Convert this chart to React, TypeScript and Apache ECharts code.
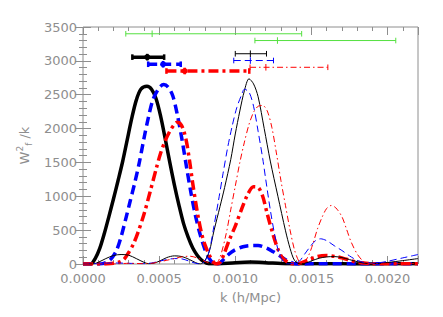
import React, { useEffect, useRef } from "react";
import * as echarts from "echarts";

// ---- curve data (k in h/Mpc, W_f^2/k) ----
const blackThickK = [0, 0.00005, 0.00008, 0.00011, 0.00014, 0.00017, 0.0002, 0.00023, 0.00026, 0.00029, 0.00032, 0.00035, 0.00038, 0.00042, 0.00045, 0.00048, 0.00051, 0.00054, 0.00057, 0.0006, 0.00063, 0.00066, 0.00069, 0.00072, 0.00075, 0.00078, 0.00081, 0.00085, 0.0009, 0.001, 0.0011, 0.0012, 0.0013, 0.0014, 0.0016, 0.0018, 0.002, 0.0022];
const blackThickW = [0, 0, 80, 230, 450, 700, 960, 1230, 1510, 1830, 2150, 2420, 2580, 2625, 2580, 2440, 2180, 1850, 1500, 1170, 870, 600, 400, 240, 130, 55, 15, 3, 5, 20, 28, 20, 8, 2, 3, 1, 2, 2];

const blackThinK = [0, 0.00006, 0.0001, 0.00015, 0.0002, 0.00025, 0.0003, 0.00035, 0.0004, 0.00043, 0.00046, 0.0005, 0.00055, 0.0006, 0.00065, 0.0007, 0.00074, 0.00077, 0.0008, 0.00083, 0.00086, 0.0009, 0.00093, 0.00097, 0.001, 0.00103, 0.00106, 0.00109, 0.00112, 0.00115, 0.00119, 0.00123, 0.00128, 0.00133, 0.00136, 0.00139, 0.00143, 0.00147, 0.0015, 0.00155, 0.0016, 0.00165, 0.0017, 0.00175, 0.0018, 0.00185, 0.0019, 0.00195, 0.002, 0.0021, 0.0022];
const blackThinW = [0, 0, 25, 80, 125, 140, 130, 80, 25, 5, 10, 40, 95, 120, 110, 65, 20, 0, 50, 190, 490, 850, 1130, 1540, 1920, 2260, 2560, 2735, 2660, 2470, 2000, 1520, 1000, 490, 230, 50, 0, 20, 45, 85, 105, 110, 95, 65, 35, 12, 5, 10, 22, 50, 80];

const blueThickK = [0, 0.0001, 0.00013, 0.00016, 0.00019, 0.00022, 0.00025, 0.00028, 0.00031, 0.00034, 0.00037, 0.0004, 0.00043, 0.00046, 0.0005, 0.00053, 0.00056, 0.00059, 0.00062, 0.00065, 0.00068, 0.00071, 0.00074, 0.00077, 0.0008, 0.00083, 0.00086, 0.00089, 0.00092, 0.00096, 0.001, 0.00105, 0.0011, 0.00115, 0.0012, 0.00125, 0.0013, 0.00134, 0.00138, 0.0014, 0.0016, 0.0018, 0.002, 0.0022];
const blueThickW = [0, 0, 5, 30, 90, 200, 400, 660, 930, 1200, 1500, 1850, 2170, 2430, 2600, 2650, 2610, 2480, 2200, 1840, 1430, 1040, 700, 430, 220, 80, 10, 5, 60, 150, 210, 255, 272, 273, 240, 180, 110, 50, 10, 0, 5, 2, 2, 3];

const blueThinK = [0, 0.0001, 0.0002, 0.0003, 0.0004, 0.00045, 0.0005, 0.00055, 0.0006, 0.00065, 0.0007, 0.00074, 0.00077, 0.0008, 0.00083, 0.00086, 0.00089, 0.00092, 0.00095, 0.00098, 0.00101, 0.00104, 0.00106, 0.00109, 0.00112, 0.00115, 0.00118, 0.0012, 0.00123, 0.00126, 0.00129, 0.00132, 0.00134, 0.00138, 0.00142, 0.00146, 0.0015, 0.00153, 0.00156, 0.0016, 0.00165, 0.0017, 0.00175, 0.0018, 0.00185, 0.0019, 0.00195, 0.002, 0.0021, 0.0022];
const blueThinW = [0, 5, 15, 10, 5, 15, 40, 65, 80, 75, 40, 10, 0, 40, 200, 560, 940, 1340, 1720, 2040, 2310, 2490, 2580, 2540, 2330, 1960, 1560, 1250, 800, 420, 140, 25, 0, 5, 40, 160, 280, 350, 372, 345, 270, 200, 120, 55, 20, 10, 20, 40, 90, 140];

const redThickK = [0, 0.00015, 0.0002, 0.00024, 0.00027, 0.0003, 0.00033, 0.00036, 0.0004, 0.00044, 0.00048, 0.00051, 0.00054, 0.00057, 0.0006, 0.00062, 0.00064, 0.00066, 0.00068, 0.0007, 0.00072, 0.00074, 0.00076, 0.00078, 0.0008, 0.00083, 0.00086, 0.00088, 0.0009, 0.00093, 0.00096, 0.001, 0.00104, 0.00108, 0.00112, 0.00115, 0.00118, 0.00121, 0.00125, 0.00128, 0.00131, 0.00135, 0.00138, 0.00142, 0.00148, 0.00154, 0.0016, 0.00166, 0.0017, 0.00176, 0.0018, 0.0019, 0.002, 0.0022];
const redThickW = [0, 0, 10, 30, 70, 170, 290, 460, 730, 1060, 1400, 1640, 1820, 1960, 2060, 2095, 2070, 1980, 1800, 1520, 1200, 910, 650, 440, 290, 130, 20, 0, 20, 170, 350, 560, 800, 1020, 1140, 1130, 1000, 740, 420, 220, 90, 20, 0, 10, 60, 110, 125, 110, 90, 50, 25, 5, 2, 3];

const redThinK = [0, 0.0002, 0.0003, 0.0004, 0.00045, 0.0005, 0.00055, 0.0006, 0.00065, 0.0007, 0.00075, 0.0008, 0.00084, 0.00087, 0.0009, 0.00094, 0.00097, 0.001, 0.00103, 0.00106, 0.00109, 0.00112, 0.00115, 0.00118, 0.00121, 0.00124, 0.00127, 0.0013, 0.00133, 0.00136, 0.00139, 0.00142, 0.00144, 0.00148, 0.00151, 0.00154, 0.00157, 0.0016, 0.00163, 0.00166, 0.0017, 0.00173, 0.00176, 0.0018, 0.00184, 0.00187, 0.0019, 0.002, 0.0022];
const redThinW = [0, 0, 10, 5, 10, 30, 55, 80, 105, 115, 90, 40, 5, 0, 100, 445, 800, 1150, 1500, 1800, 2060, 2240, 2330, 2341, 2260, 2020, 1640, 1230, 860, 500, 200, 30, 0, 120, 300, 519, 690, 820, 864, 830, 700, 519, 330, 150, 40, 5, 2, 2, 5];

// ---- horizontal error bars: [centre, low, high, level] ----
const barNames = ["green1", "green2", "blackThick", "blueThick", "redThick", "blackThin", "blueThin", "redThin"];
const barCentre = [0.000454, 0.001277, 0.000422, 0.000526, 0.000668, 0.001099, 0.001099, 0.001201];
const barLow = [0.000281, 0.001129, 0.000324, 0.000428, 0.000548, 0.001, 0.00099, 0.001097];
const barHigh = [0.001436, 0.002054, 0.000533, 0.000642, 0.001092, 0.001205, 0.001251, 0.001608];
const barLevel = [3400, 3300, 3055, 2950, 2850, 3105, 3005, 2905];

// ---- axis ticks ----
const xMin = 0, xMax = 0.0022, xMajor = 0.0005, xMinor = 0.0001;
const yMin = 0, yMax = 3500, yMajor = 500;

const GRAY = "#8e8e8e";
const FONT = "DejaVu Sans";

type Sty = { color: string; width: number; dash: number[] | "solid"; dot?: boolean };
const styles: Record<string, Sty> = {
  green1: { color: "#55e040", width: 1, dash: "solid" },
  green2: { color: "#55e040", width: 1, dash: "solid" },
  blackThick: { color: "#000000", width: 3.5, dash: "solid", dot: true },
  blueThick: { color: "#0000ff", width: 3.5, dash: [9, 5], dot: true },
  redThick: { color: "#ff0000", width: 3.5, dash: [10, 4, 3, 4], dot: true },
  blackThin: { color: "#000000", width: 1, dash: "solid" },
  blueThin: { color: "#0000ff", width: 1, dash: [7, 4] },
  redThin: { color: "#ff0000", width: 1, dash: [6, 3, 1.5, 3] },
};

function pairs(k: number[], w: number[]) {
  return k.map((v, i) => [v, w[i]]);
}

function curve(name: string, k: number[], w: number[], st: Sty) {
  return {
    type: "line",
    name,
    data: pairs(k, w),
    showSymbol: false,
    symbol: "none",
    smooth: 0.3,
    xAxisIndex: 0,
    yAxisIndex: 0,
    lineStyle: { color: st.color, width: st.width, type: st.dash, cap: "butt", join: "round" },
    z: st.width > 2 ? 3 : 4,
  };
}

function errBar(i: number) {
  const st = styles[barNames[i]];
  return {
    type: "custom",
    name: barNames[i],
    xAxisIndex: 0,
    yAxisIndex: 0,
    data: [[barCentre[i], barLow[i], barHigh[i], barLevel[i]]],
    renderItem: (params: any, api: any) => {
      const y = api.value(3);
      const c = api.coord([api.value(0), y]);
      const lo = api.coord([api.value(1), y]);
      const hi = api.coord([api.value(2), y]);
      const h = 2.8;
      const lineStyle = {
        stroke: st.color,
        lineWidth: st.width,
        lineDash: st.dash === "solid" ? null : st.dash,
        fill: null,
      };
      const capStyle = { stroke: st.color, lineWidth: st.width > 2 ? 2.5 : 1, fill: null };
      const children: any[] = [
        { type: "line", shape: { x1: lo[0], y1: lo[1], x2: hi[0], y2: hi[1] }, style: lineStyle },
        { type: "line", shape: { x1: lo[0], y1: lo[1] - h, x2: lo[0], y2: lo[1] + h }, style: capStyle },
        { type: "line", shape: { x1: hi[0], y1: hi[1] - h, x2: hi[0], y2: hi[1] + h }, style: capStyle },
        { type: "line", shape: { x1: c[0], y1: c[1] - h - 0.5, x2: c[0], y2: c[1] + h + 0.5 }, style: capStyle },
      ];
      if (st.dot) {
        children.push({ type: "circle", shape: { cx: c[0], cy: c[1], r: 3 }, style: { fill: st.color } });
      }
      return { type: "group", children };
    },
    z: 5,
  };
}

function isMajor(v: number) {
  return Math.abs(Math.round(v / xMajor) * xMajor - v) < 1e-9;
}

export default function App() {
  const ref = useRef<HTMLDivElement>(null);
  useEffect(() => {
    if (!ref.current) return;
    const chart = echarts.init(ref.current, null, { renderer: "svg" });
    const baseX = {
      type: "value",
      min: xMin,
      max: xMax,
      splitLine: { show: false },
      axisLine: { show: false },
    };
    const labelStyle = { color: GRAY, fontFamily: FONT, fontSize: 13 };
    const option: any = {
      animation: false,
      backgroundColor: "#ffffff",
      grid: { left: 83, right: 25, top: 27, bottom: 53, show: true, borderColor: GRAY, borderWidth: 1, backgroundColor: "transparent" },
      xAxis: [
        {
          ...baseX,
          position: "bottom",
          interval: xMinor,
          name: "k (h/Mpc)",
          nameLocation: "middle",
          nameGap: 27,
          nameTextStyle: { ...labelStyle },
          axisTick: { show: true, inside: true, length: 4, lineStyle: { color: GRAY } },
          axisLabel: {
            ...labelStyle,
            margin: 8,
            showMaxLabel: false,
            formatter: (v: number) => (isMajor(v) ? v.toFixed(4) : ""),
          },
        },
        {
          ...baseX,
          position: "bottom",
          interval: xMajor,
          axisTick: { show: true, inside: true, length: 8, lineStyle: { color: GRAY } },
          axisLabel: { show: false },
        },
        {
          ...baseX,
          position: "top",
          interval: xMinor,
          axisTick: { show: true, inside: true, length: 4, lineStyle: { color: GRAY } },
          axisLabel: { show: false },
        },
        {
          ...baseX,
          position: "top",
          interval: xMajor,
          axisTick: { show: true, inside: true, length: 8, lineStyle: { color: GRAY } },
          axisLabel: { show: false },
        },
      ],
      yAxis: [
        {
          type: "value",
          min: yMin,
          max: yMax,
          interval: yMajor,
          position: "left",
          splitLine: { show: false },
          axisLine: { show: false },
          axisTick: { show: true, inside: true, length: 8, lineStyle: { color: GRAY } },
          minorTick: { show: true, splitNumber: 5, length: 4, lineStyle: { color: GRAY } },
          axisLabel: { ...labelStyle, margin: 6, formatter: (v: number) => String(v) },
          name: "W{sup|2}{sub|f} /k",
          nameLocation: "middle",
          nameGap: 50,
          nameRotate: 90,
          nameTextStyle: {
            ...labelStyle,
            rich: {
              sup: { color: GRAY, fontFamily: FONT, fontSize: 9, verticalAlign: "top", lineHeight: 18 },
              sub: { color: GRAY, fontFamily: FONT, fontSize: 9, verticalAlign: "bottom", lineHeight: 18 },
            },
          },
        },
        {
          type: "value",
          min: yMin,
          max: yMax,
          interval: yMajor,
          position: "right",
          splitLine: { show: false },
          axisLine: { show: false },
          axisTick: { show: true, inside: true, length: 8, lineStyle: { color: GRAY } },
          minorTick: { show: true, splitNumber: 5, length: 4, lineStyle: { color: GRAY } },
          axisLabel: { show: false },
        },
      ],
      series: [
        curve("blackThin", blackThinK, blackThinW, styles.blackThin),
        curve("blueThin", blueThinK, blueThinW, styles.blueThin),
        curve("redThin", redThinK, redThinW, styles.redThin),
        curve("blackThick", blackThickK, blackThickW, styles.blackThick),
        curve("blueThick", blueThickK, blueThickW, styles.blueThick),
        curve("redThick", redThickK, redThickW, styles.redThick),
        ...barNames.map((_, i) => errBar(i)),
      ],
    };
    chart.setOption(option);
    return () => chart.dispose();
  }, []);
  return (
    <div
      ref={ref}
      style={{ position: "absolute", left: 0, top: 0, width: 443, height: 317 }}
    />
  );
}
